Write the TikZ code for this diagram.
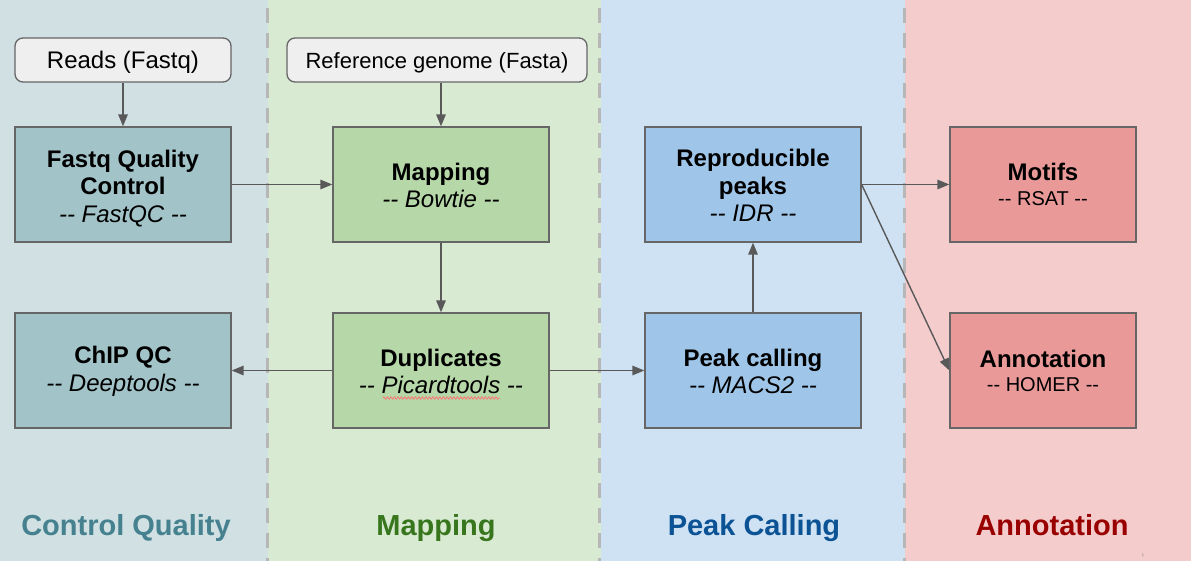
\documentclass[tikz,border=0pt]{standalone}
\usepackage{fontspec}
\setmainfont{Liberation Sans}
\usetikzlibrary{arrows.meta,decorations.pathmorphing}
\definecolor{bandA}{HTML}{D0E0E3}
\definecolor{bandB}{HTML}{D9EAD3}
\definecolor{bandC}{HTML}{CFE2F3}
\definecolor{bandD}{HTML}{F4CCCC}
\definecolor{boxA}{HTML}{A2C4C9}
\definecolor{boxB}{HTML}{B6D7A8}
\definecolor{boxC}{HTML}{9FC5E8}
\definecolor{boxD}{HTML}{EA9999}
\definecolor{labA}{HTML}{45818E}
\definecolor{labB}{HTML}{38761D}
\definecolor{labC}{HTML}{0B5394}
\definecolor{labD}{HTML}{990000}
\definecolor{inbox}{HTML}{EFEFEF}
\definecolor{edge}{HTML}{666666}
\definecolor{arr}{HTML}{595959}
\definecolor{sep}{HTML}{B7B7B7}
\newcommand\dd{\mbox{-}\mbox{-}}
\begin{document}
\begin{tikzpicture}[x=1pt,y=-1pt,
  stagebox/.style={draw=edge,line width=1.3pt,minimum width=216pt,minimum height=115pt,inner sep=0pt},
  stagetext/.style={align=center,inner sep=0pt,font=\fontsize{24}{27.5}\selectfont},
  inputbox/.style={draw=edge,line width=1.3pt,fill=inbox,rounded corners=8pt,minimum height=44pt,
    inner sep=0pt},
  flow/.style={draw=arr,line width=1.4pt,-{Triangle[length=12pt,width=9.5pt]}},
  bandlabel/.style={anchor=base,font=\fontsize{29}{32}\selectfont\bfseries},
  sepline/.style={draw=sep,line width=3pt,dash pattern=on 15pt off 10pt}
]
\useasboundingbox (0,0) rectangle (1191,561);
% bands
\fill[bandA] (0,0) rectangle (268,561);
\fill[bandB] (268,0) rectangle (601,561);
\fill[bandC] (601,0) rectangle (905,561);
\fill[bandD] (905,0) rectangle (1191,561);
\draw[sepline] (267.5,8) -- (267.5,561);
\draw[sepline] (599,8) -- (599,561);
\draw[sepline] (904,8) -- (904,561);
% inputs
\node[inputbox,minimum width=216pt,font=\fontsize{24}{28}\selectfont,text height=20pt,text depth=2pt] (reads) at (123,60) {Reads (Fastq)};
\node[inputbox,minimum width=300pt,font=\fontsize{22}{26}\selectfont,text height=19pt,text depth=2.2pt] (ref) at (437,60) {Reference genome (Fasta)};
% stage boxes
\node[stagebox,fill=boxA] (fqc) at (123,184.5) {};
\node[stagebox,fill=boxB] (map) at (441,184.5) {};
\node[stagebox,fill=boxC] (rep) at (753,184.5) {};
\node[stagebox,fill=boxD,minimum width=186pt] (mot) at (1043,184.5) {};
\node[stagebox,fill=boxA] (chip) at (123,370.5) {};
\node[stagebox,fill=boxB] (dup) at (441,370.5) {};
\node[stagebox,fill=boxC] (peak) at (753,370.5) {};
\node[stagebox,fill=boxD,minimum width=186pt] (ann) at (1043,370.5) {};
% stage texts
\node[stagetext] (fqcT) at ([yshift=-4pt]fqc.center) {\textbf{Fastq Quality}\\\textbf{Control}\\\textit{\dd{} FastQC \dd}};
\node[stagetext] (mapT) at ([yshift=-1pt]map.center) {\textbf{Mapping}\\\textit{\dd{} Bowtie \dd}};
\node[stagetext] (repT) at ([yshift=-1pt]rep.center) {\textbf{Reproducible}\\\textbf{peaks}\\\textit{\dd{} IDR \dd}};
\node[stagetext] (motT) at ([yshift=0pt]mot.center) {\textbf{Motifs}\\[-3pt]{\fontsize{20}{24}\selectfont \dd{} RSAT \dd}};
\node[stagetext] (chipT) at ([yshift=-1pt]chip.center) {\textbf{ChIP QC}\\\textit{\dd{} Deeptools \dd}};
\node[stagetext] (dupT) at ([yshift=-1pt]dup.center) {\textbf{Duplicates}\\\textit{\dd{} Picardtools \dd}};
\node[stagetext] (peakT) at ([yshift=-1pt]peak.center) {\textbf{Peak calling}\\\textit{\dd{} MACS2 \dd}};
\node[stagetext] (annT) at ([yshift=-0.5pt]ann.center) {\textbf{Annotation}\\[-3pt]{\fontsize{20}{24}\selectfont \dd{} HOMER \dd}};
% spell-check squiggle
\draw[red!55,line width=0.8pt,decorate,decoration={zigzag,amplitude=1.2pt,segment length=3.5pt}] (383,398) -- (500,398);
% connectors
\draw[flow] (reads.south) -- (fqc.north);
\draw[flow] (ref.south -| map.north) -- (map.north);
\draw[flow] (fqc.east) -- (map.west);
\draw[flow] (map.south) -- (dup.north);
\draw[flow] (dup.west) -- (chip.east);
\draw[flow] (dup.east) -- (peak.west);
\draw[flow] (peak.north) -- (rep.south);
\draw[flow] (rep.east) -- (mot.west);
\draw[flow] (rep.east) -- (ann.west);
% band labels
\node[bandlabel,text=labA] (lA) at (126,535) {Control Quality};
\node[bandlabel,text=labB] (lB) at (436,535) {Mapping};
\node[bandlabel,text=labC] (lC) at (754,535) {Peak Calling};
\node[bandlabel,text=labD] (lD) at (1052,535) {Annotation};
\node[font=\fontsize{4}{5}\selectfont,text=gray] (pg) at (1143,555) {1};
\end{tikzpicture}
\end{document}
